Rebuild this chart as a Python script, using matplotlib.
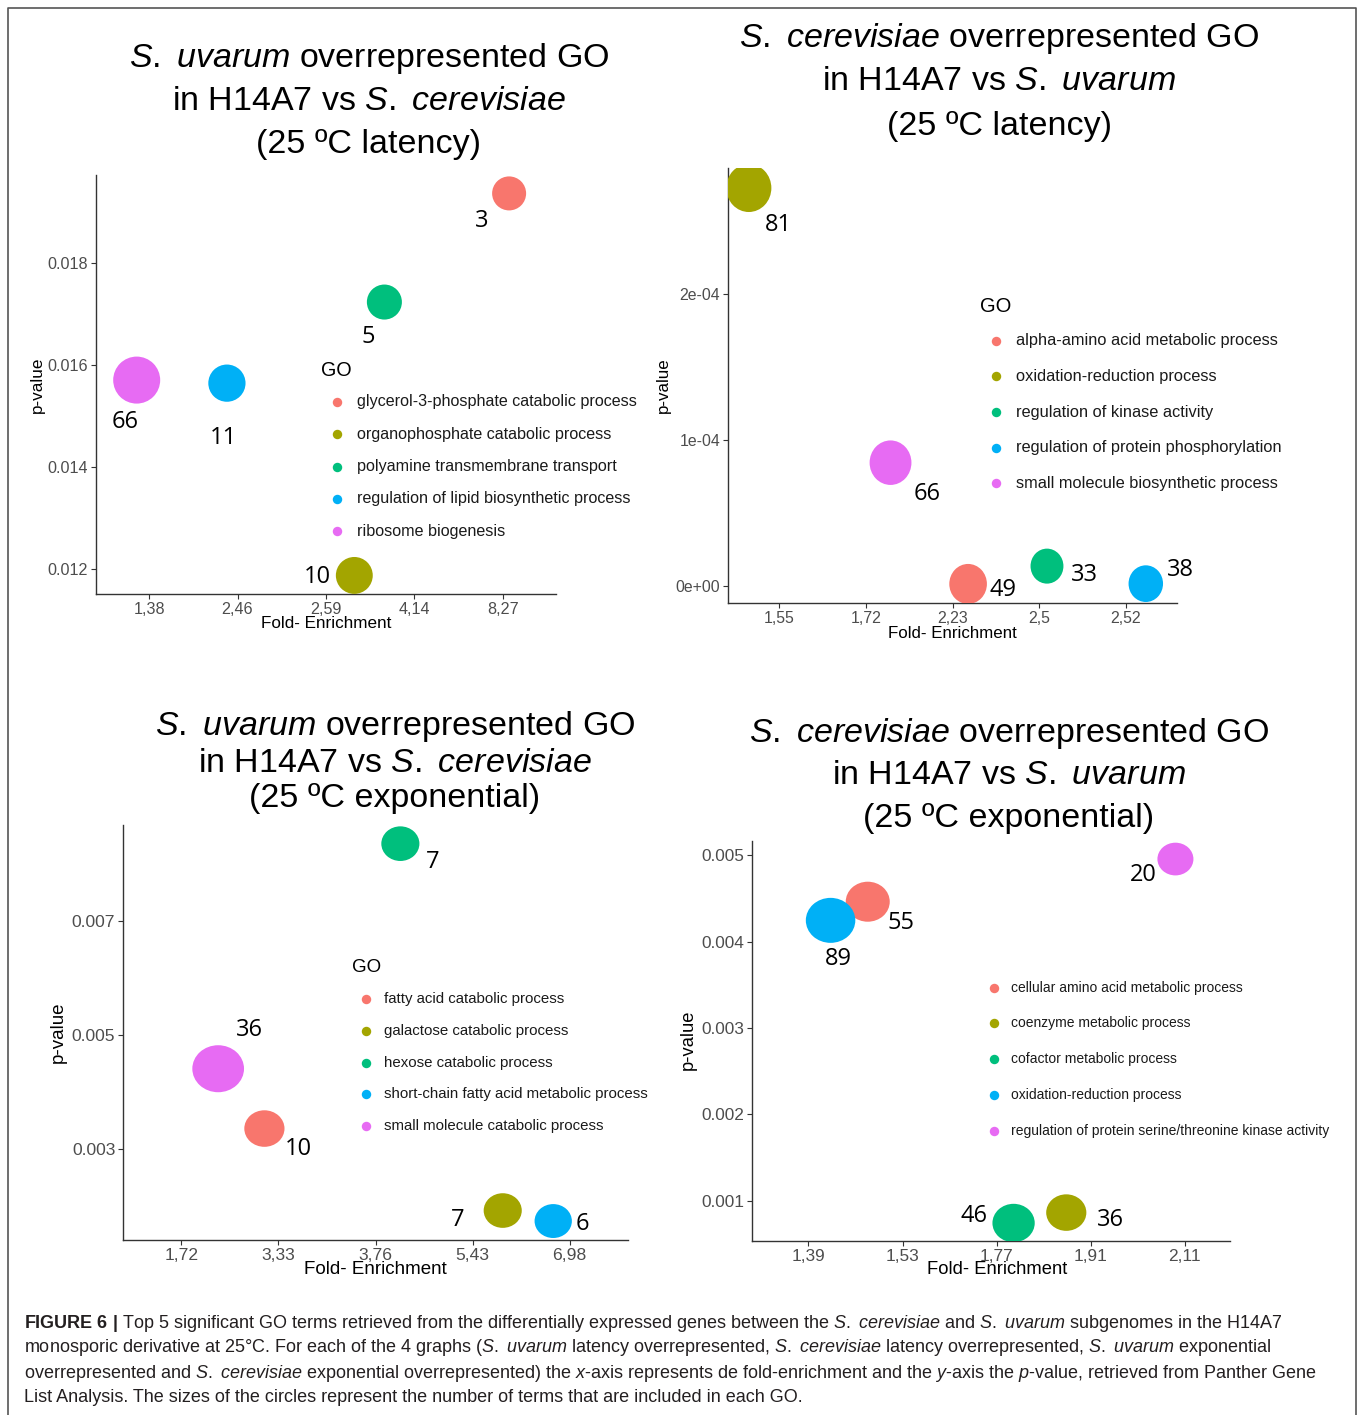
import matplotlib.pyplot as plt
import numpy as np
from matplotlib.lines import Line2D
from matplotlib.markers import MarkerStyle
from matplotlib.path import Path

W, H = 1358, 1415

plt.rcParams["font.family"] = ["Liberation Sans", "DejaVu Sans"]
plt.rcParams["mathtext.fontset"] = "custom"
plt.rcParams["mathtext.rm"] = "Liberation Sans"
plt.rcParams["mathtext.it"] = "Liberation Sans:italic"
plt.rcParams["mathtext.bf"] = "Liberation Sans:bold"

# ggplot default hue palette for five groups
HUE = ["#F8766D", "#A3A500", "#00BF7D", "#00B0F6", "#E76BF3"]

# italic species names
SUV = r"$\mathit{S.}$ $\mathit{uvarum}$"
SCE = r"$\mathit{S.}$ $\mathit{cerevisiae}$"

# --- S. uvarum, latency -------------------------------------------------
lat_uva_terms = ["glycerol-3-phosphate catabolic process",
                 "organophosphate catabolic process",
                 "polyamine transmembrane transport",
                 "regulation of lipid biosynthetic process",
                 "ribosome biogenesis"]
lat_uva_ticks = ["1,38", "2,46", "2,59", "4,14", "8,27"]
lat_uva_x = [4.07, 2.32, 2.66, 0.88, -0.14]
lat_uva_p = [0.01937, 0.01188, 0.01724, 0.01565, 0.01571]
lat_uva_n = [3, 10, 5, 11, 66]
lat_uva_yticks = [0.012, 0.014, 0.016, 0.018]
lat_uva_ylabels = ["0.012", "0.014", "0.016", "0.018"]

# --- S. cerevisiae, latency ---------------------------------------------
lat_cer_terms = ["alpha-amino acid metabolic process",
                 "oxidation-reduction process",
                 "regulation of kinase activity",
                 "regulation of protein phosphorylation",
                 "small molecule biosynthetic process"]
lat_cer_ticks = ["1,55", "1,72", "2,23", "2,5", "2,52"]
lat_cer_x = [2.18, -0.35, 3.09, 4.23, 1.285]
lat_cer_p = [1.6e-6, 2.726e-4, 1.38e-5, 1.8e-6, 8.46e-5]
lat_cer_n = [49, 81, 33, 38, 66]
lat_cer_yticks = [0.0, 1e-4, 2e-4]
lat_cer_ylabels = ["0e+00", "1e-04", "2e-04"]

# --- S. uvarum, exponential ---------------------------------------------
exp_uva_terms = ["fatty acid catabolic process",
                 "galactose catabolic process",
                 "hexose catabolic process",
                 "short-chain fatty acid metabolic process",
                 "small molecule catabolic process"]
exp_uva_ticks = ["1,72", "3,33", "3,76", "5,43", "6,98"]
exp_uva_x = [0.856, 3.31, 2.256, 3.83, 0.38]
exp_uva_p = [0.003364, 0.001928, 0.008354, 0.001744, 0.004412]
exp_uva_n = [10, 7, 7, 6, 36]
exp_uva_yticks = [0.003, 0.005, 0.007]
exp_uva_ylabels = ["0.003", "0.005", "0.007"]

# --- S. cerevisiae, exponential -----------------------------------------
exp_cer_terms = ["cellular amino acid metabolic process",
                 "coenzyme metabolic process",
                 "cofactor metabolic process",
                 "oxidation-reduction process",
                 "regulation of protein serine/threonine kinase activity"]
exp_cer_ticks = ["1,39", "1,53", "1,77", "1,91", "2,11"]
exp_cer_x = [0.63, 2.74, 2.18, 0.235, 3.90]
exp_cer_p = [0.004463, 0.000863, 0.000742, 0.004247, 0.004957]
exp_cer_n = [55, 36, 46, 89, 20]
exp_cer_yticks = [0.001, 0.002, 0.003, 0.004, 0.005]
exp_cer_ylabels = ["0.001", "0.002", "0.003", "0.004", "0.005"]

# layout of each panel, in pixels of the 1358x1415 canvas
panels = [
    dict(terms=lat_uva_terms, ticks=lat_uva_ticks, x=lat_uva_x, p=lat_uva_p,
         n=lat_uva_n, yt=lat_uva_yticks, ytl=lat_uva_ylabels,
         box=(96, 175, 556, 594), xlim=(-0.6, 4.6), ylim=(0.011516, 0.019731),
         dsize=(34, 47), aspect=1.0, tick_fs=11.6, lab_fs=12.3,
         xlab=(326, 624), ylab=(37, 385),
         offsets=[(-27, 28), (-37, 2), (-16, 35), (-3, 55), (-12, 42)],
         title=[SUV + " overrepresented GO", "in H14A7 vs " + SCE,
                "(25 ºC latency)"],
         title_xy=(369, [58, 101, 144]),
         leg=dict(title=(321, 371), dot=337, text=357, y0=402, dy=32.3,
                  fs=11.6, tfs=14.2)),
    dict(terms=lat_cer_terms, ticks=lat_cer_ticks, x=lat_cer_x, p=lat_cer_p,
         n=lat_cer_n, yt=lat_cer_yticks, ytl=lat_cer_ylabels,
         box=(728, 168, 1177, 603), xlim=(-0.59, 4.59), ylim=(-1.144e-5, 2.863e-4),
         dsize=(35, 48), aspect=0.94, tick_fs=11.4, lab_fs=12.2,
         xlab=(952, 634), ylab=(663, 385),
         offsets=[(35, 6), (30, 37), (37, 9), (35, -14), (37, 31)],
         title=[SCE + " overrepresented GO", "in H14A7 vs " + SUV,
                "(25 ºC latency)"],
         title_xy=(999, [39, 82, 126]),
         leg=dict(title=(980, 306), dot=996, text=1016, y0=340.7, dy=35.65,
                  fs=11.8, tfs=14.5)),
    dict(terms=exp_uva_terms, ticks=exp_uva_ticks, x=exp_uva_x, p=exp_uva_p,
         n=exp_uva_n, yt=exp_uva_yticks, ytl=exp_uva_ylabels,
         box=(123, 825, 628, 1240), xlim=(-0.6, 4.6), ylim=(0.001412, 0.008681),
         dsize=(37.3, 51.7), aspect=1.1, tick_fs=12.6, lab_fs=13.5,
         xlab=(375, 1269), ylab=(58, 1032),
         offsets=[(33.6, 20), (-45, 9), (32.5, 18), (29.6, 3), (31, -39)],
         title=[SUV + " overrepresented GO", "in H14A7 vs " + SCE,
                "(25 ºC exponential)"],
         title_xy=(395, [727, 763, 798]),
         leg=dict(title=(351.7, 968), dot=366, text=384, y0=999.3, dy=31.6,
                  fs=10.8, tfs=13.5)),
    dict(terms=exp_cer_terms, ticks=exp_cer_ticks, x=exp_cer_x, p=exp_cer_p,
         n=exp_cer_n, yt=exp_cer_yticks, ytl=exp_cer_ylabels,
         box=(752, 841, 1230, 1241), xlim=(-0.6, 4.48), ylim=(0.000534, 0.005166),
         dsize=(36, 49.5), aspect=1.1, tick_fs=12.4, lab_fs=13.2,
         xlab=(997, 1270), ylab=(688, 1040),
         offsets=[(33, 21), (44.5, 7), (-40, -7), (8, 39), (-32, 16)],
         title=[SCE + " overrepresented GO", "in H14A7 vs " + SUV,
                "(25 ºC exponential)"],
         title_xy=(1009, [734, 776, 818]),
         leg=dict(title=None, dot=994, text=1011, y0=987.7, dy=35.75,
                  fs=10.0, tfs=13.5)),
]

caption = [
    r"$\mathbf{FIGURE\ 6\ |}$ Top 5 significant GO terms retrieved from the differentially "
    "expressed genes between the " + SCE + " and " + SUV + " subgenomes in the H14A7",
    "monosporic derivative at 25°C. For each of the 4 graphs (" + SUV + " latency "
    "overrepresented, " + SCE + " latency overrepresented, " + SUV + " exponential",
    "overrepresented and " + SCE + r" exponential overrepresented) the $\mathit{x}$-axis "
    r"represents de fold-enrichment and the $\mathit{y}$-axis the $\mathit{p}$-value, "
    "retrieved from Panther Gene",
    "List Analysis. The sizes of the circles represent the number of terms that are "
    "included in each GO.",
]


def fx(x):
    return x / W


def fy(y):
    return 1 - y / H


def oval(aspect):
    circ = Path.unit_circle()
    return MarkerStyle(Path(circ.vertices * [aspect, 1.0], circ.codes))


def bubble_sizes(counts, dmin, dmax):
    # diameter linear in sqrt(count), like ggplot's scale_size
    r = np.sqrt(np.asarray(counts, dtype=float))
    d = dmin + (dmax - dmin) * (r - r.min()) / (r.max() - r.min())
    return (d * 72 / 100) ** 2


fig = plt.figure(figsize=(W / 100, H / 100), dpi=100)

for pn in panels:
    l, t, r, b = pn["box"]
    ax = fig.add_axes([fx(l), fy(b), (r - l) / W, (b - t) / H])
    ax.scatter(pn["x"], pn["p"], s=bubble_sizes(pn["n"], *pn["dsize"]),
               c=HUE, marker=oval(pn["aspect"]), linewidths=0, zorder=3)
    for xi, pi, ni, (dx, dy) in zip(pn["x"], pn["p"], pn["n"], pn["offsets"]):
        ax.annotate(str(ni), (xi, pi), xytext=(dx, -dy), textcoords="offset pixels",
                    ha="center", va="center", fontsize=17, family="Open Sans",
                    color="black", zorder=4)
    ax.set_xlim(*pn["xlim"])
    ax.set_ylim(*pn["ylim"])
    ax.set_xticks(range(len(pn["ticks"])), pn["ticks"])
    ax.set_yticks(pn["yt"], pn["ytl"])
    for side in ("top", "right"):
        ax.spines[side].set_visible(False)
    for side in ("left", "bottom"):
        ax.spines[side].set_color("#333333")
        ax.spines[side].set_linewidth(1.0)
    ax.tick_params(length=3.5, width=0.8, color="#333333", labelcolor="#4D4D4D",
                   labelsize=pn["tick_fs"], pad=2)

    ax.set_xlabel("Fold- Enrichment", fontsize=pn["lab_fs"])
    ax.xaxis.set_label_coords((pn["xlab"][0] - l) / (r - l), (b - pn["xlab"][1]) / (b - t))
    ax.xaxis.label.set_va("center")
    ax.set_ylabel("p-value", fontsize=pn["lab_fs"])
    ax.yaxis.set_label_coords((pn["ylab"][0] - l) / (r - l), (b - pn["ylab"][1]) / (b - t))
    ax.yaxis.label.set_va("center")

    tx, tys = pn["title_xy"]
    for line, ty in zip(pn["title"], tys):
        fig.text(fx(tx), fy(ty), line, ha="center", va="center", fontsize=24.5)

    lg = pn["leg"]
    if lg["title"] is not None:
        fig.text(fx(lg["title"][0]), fy(lg["title"][1]), "GO", ha="left",
                 va="center", fontsize=lg["tfs"])
    for i, (term, col) in enumerate(zip(pn["terms"], HUE)):
        yy = lg["y0"] + i * lg["dy"]
        fig.add_artist(Line2D([fx(lg["dot"])], [fy(yy)], marker="o", ms=6.8,
                              color=col, mew=0, transform=fig.transFigure))
        fig.text(fx(lg["text"]), fy(yy), term, ha="left", va="center",
                 fontsize=lg["fs"], color="#1A1A1A")

for i, line in enumerate(caption):
    fig.text(fx(24), fy(1323 + 25 * i), line, ha="left", va="center",
             fontsize=13.0, color="#231F20")

# thin frame around the figure, open at the bottom
fig.add_artist(Line2D([fx(8), fx(8), fx(1356), fx(1356)], [0, fy(8), fy(8), 0],
                      color="#555555", lw=1.2, transform=fig.transFigure))

fig.savefig("out.png", dpi=100)
